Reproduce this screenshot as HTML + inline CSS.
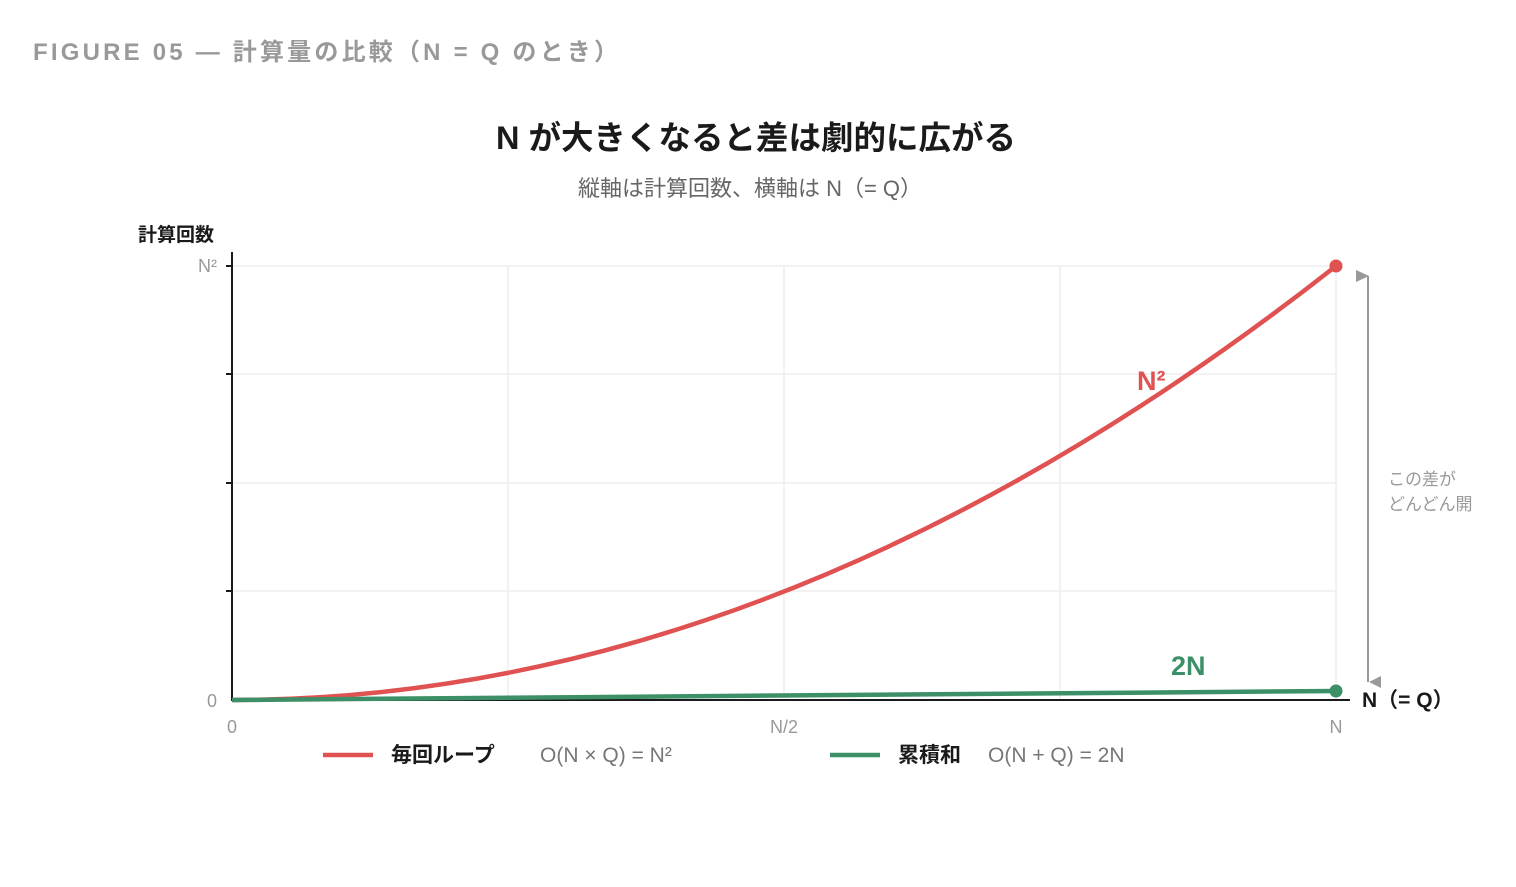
<!DOCTYPE html>
<html><head><meta charset="utf-8"><style>
body{margin:0;background:#fff;width:1516px;height:882px;overflow:hidden;font-family:"Liberation Sans","Noto Sans CJK JP",sans-serif;}
</style></head><body>
<svg width="1516" height="882" xmlns="http://www.w3.org/2000/svg" font-family="Liberation Sans, Noto Sans CJK JP, sans-serif">
<rect width="1516" height="882" fill="#fff"/>
<text x="33" y="60" font-size="24" fill="#999" font-weight="bold" letter-spacing="3.2">FIGURE 05 — 計算量の比較（N = Q のとき）</text>
<text x="756" y="149" font-size="32.5" font-weight="bold" fill="#1a1a1a" text-anchor="middle">N が大きくなると差は劇的に広がる</text>
<text x="750" y="196" font-size="22" fill="#666" text-anchor="middle">縦軸は計算回数、横軸は N（= Q）</text>
<text x="138" y="241" font-size="19" font-weight="bold" fill="#1a1a1a">計算回数</text>
<g stroke="#eee" stroke-width="1.5">
<line x1="232" y1="266" x2="1336" y2="266"/><line x1="232" y1="374" x2="1336" y2="374"/>
<line x1="232" y1="483" x2="1336" y2="483"/><line x1="232" y1="591" x2="1336" y2="591"/>
<line x1="508" y1="266" x2="508" y2="700"/><line x1="784" y1="266" x2="784" y2="700"/>
<line x1="1060" y1="266" x2="1060" y2="700"/><line x1="1336" y1="266" x2="1336" y2="700"/>
</g>
<g stroke="#1a1a1a" stroke-width="2">
<line x1="232" y1="252" x2="232" y2="701"/>
<line x1="231" y1="700" x2="1350" y2="700"/>
<line x1="226" y1="266" x2="232" y2="266"/><line x1="226" y1="374" x2="232" y2="374"/>
<line x1="226" y1="483" x2="232" y2="483"/><line x1="226" y1="591" x2="232" y2="591"/>
</g>
<text x="217" y="272" font-size="18" fill="#999" text-anchor="end">N²</text>
<text x="217" y="707" font-size="18" fill="#999" text-anchor="end">0</text>
<text x="232" y="733" font-size="18" fill="#999" text-anchor="middle">0</text>
<text x="784" y="733" font-size="18" fill="#999" text-anchor="middle">N/2</text>
<text x="1336" y="733" font-size="18" fill="#999" text-anchor="middle">N</text>
<text x="1362" y="707" font-size="21" font-weight="bold" fill="#1a1a1a">N（= Q）</text>
<path d="M232 700 Q784 700 1336 266" fill="none" stroke="#e05252" stroke-width="4.5"/>
<line x1="232" y1="700" x2="1336" y2="691" stroke="#3c8f66" stroke-width="4.5"/>
<circle cx="1336" cy="266" r="6.5" fill="#e05252"/>
<circle cx="1336" cy="691" r="6.5" fill="#3c8f66"/>
<text x="1137" y="390" font-size="27" font-weight="bold" fill="#e05252">N²</text>
<text x="1171" y="675" font-size="27" font-weight="bold" fill="#3c8f66">2N</text>
<line x1="1368" y1="276" x2="1368" y2="682" stroke="#999" stroke-width="2"/>
<polygon points="1356,270 1369,276 1356,282" fill="#999"/>
<polygon points="1381,676 1369,682 1381,688" fill="#999"/>
<text x="1388" y="485" font-size="17" fill="#999">この差が</text>
<text x="1388" y="510" font-size="17" fill="#999">どんどん開</text>
<line x1="323" y1="755" x2="373" y2="755" stroke="#e05252" stroke-width="4.5"/>
<text x="391" y="762" font-size="21" font-weight="bold" fill="#1a1a1a">毎回ループ</text>
<text x="540" y="762" font-size="21" fill="#777">O(N × Q) = N²</text>
<line x1="830" y1="755" x2="880" y2="755" stroke="#3c8f66" stroke-width="4.5"/>
<text x="898" y="762" font-size="21" font-weight="bold" fill="#1a1a1a">累積和</text>
<text x="988" y="762" font-size="21" fill="#777">O(N + Q) = 2N</text>
</svg>
</body></html>
